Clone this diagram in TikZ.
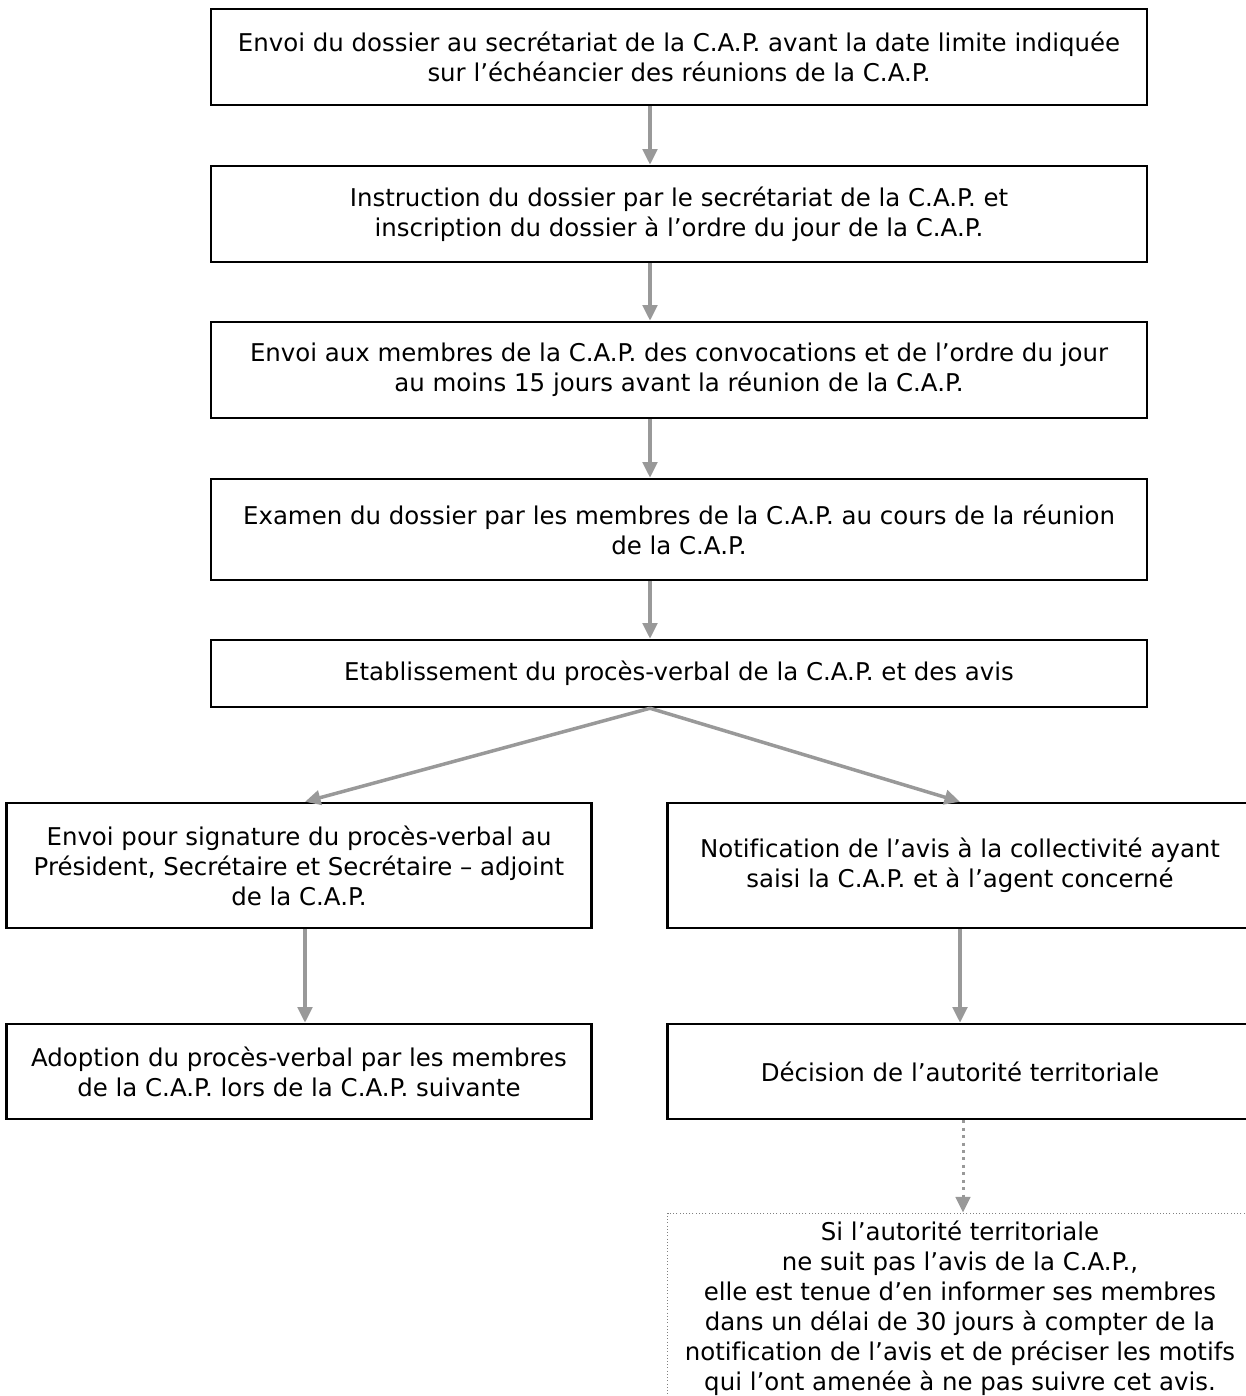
\documentclass[tikz,border=0pt]{standalone}
\usepackage{fontspec}
\setmainfont[Ligatures=NoCommon]{DejaVu Sans}
\usetikzlibrary{positioning,arrows.meta}

\newcommand{\pxl}{0.45pt}
\definecolor{grisfl}{HTML}{999999}

\begin{document}
\begin{tikzpicture}[
  x=\pxl, y=-\pxl,
  every node/.style={font=\fontsize{11.0}{13.5}\selectfont, align=center, inner sep=0pt},
  etape/.style={draw, rectangle, line width=2.5*\pxl},
  large/.style={minimum width=936*\pxl},
  demi/.style={minimum width=585*\pxl},
  fleche/.style={draw=grisfl, line width=3.5*\pxl, -{Triangle[width=6.5pt, length=7pt]}},
  pointille/.style={draw=grisfl, line width=3*\pxl, dotted, -{Triangle[width=6.5pt, length=7pt]}},
]

\useasboundingbox (0,0) rectangle (1246,1396);
\clip (0,0) rectangle (1246,1396);

% colonne centrale
\node (e1) [etape, large, minimum height=96*\pxl] at (679,57)
  {Envoi du dossier au secrétariat de la C.A.P. avant la date limite indiquée\\
   sur l’échéancier des réunions de la C.A.P.};
\node (e2) [etape, large, minimum height=96*\pxl] at (679,214)
  {Instruction du dossier par le secrétariat de la C.A.P. et\\
   inscription du dossier à l’ordre du jour de la C.A.P.};
\node (e3) [etape, large, minimum height=96*\pxl] at (679,370)
  {Envoi aux membres de la C.A.P. des convocations et de l’ordre du jour\\
   au moins 15 jours avant la réunion de la C.A.P.};
\node (e4) [etape, large, minimum height=101*\pxl] at (679,529.5)
  {Examen du dossier par les membres de la C.A.P. au cours de la réunion\\
   de la C.A.P.};
\node (e5) [etape, large, minimum height=67*\pxl] at (679,673.5)
  {Etablissement du procès-verbal de la C.A.P. et des avis};

% branche gauche
\node (g1) [etape, demi, minimum height=125*\pxl] at (299,865.5)
  {Envoi pour signature du procès-verbal au\\
   Président, Secrétaire et Secrétaire – adjoint\\
   de la C.A.P.};
\node (g2) [etape, demi, minimum height=95*\pxl] at (299,1071.5)
  {Adoption du procès-verbal par les membres\\
   de la C.A.P. lors de la C.A.P. suivante};

% branche droite
\node (d1) [etape, demi, minimum height=125*\pxl] at (960,865.5)
  {Notification de l’avis à la collectivité ayant\\
   saisi la C.A.P. et à l’agent concerné};
\node (d2) [etape, demi, minimum height=95*\pxl] at (960,1071.5)
  {Décision de l’autorité territoriale};
\node (d3) [draw=gray, densely dotted, line width=1*\pxl, demi, minimum height=190*\pxl] at (960,1308)
  {Si l’autorité territoriale\\
   ne suit pas l’avis de la C.A.P.,\\
   elle est tenue d’en informer ses membres\\
   dans un délai de 30 jours à compter de la\\
   notification de l’avis et de préciser les motifs\\
   qui l’ont amenée à ne pas suivre cet avis.};

\coordinate (axe) at (650,0);

\draw[fleche] (e1.south -| axe) -- (e2.north -| axe);
\draw[fleche] (e2.south -| axe) -- (e3.north -| axe);
\draw[fleche] (e3.south -| axe) -- (e4.north -| axe);
\draw[fleche] (e4.south -| axe) -- (e5.north -| axe);
\draw[fleche] (e5.south -| axe) -- ([xshift=6*\pxl]g1.north);
\draw[fleche] (e5.south -| axe) -- (d1.north);
\draw[fleche] ([xshift=6*\pxl]g1.south) -- ([xshift=6*\pxl]g2.north);
\draw[fleche] (d1.south) -- (d2.north);
\draw[pointille] ([xshift=3*\pxl]d2.south) -- ([xshift=3*\pxl]d3.north);

\end{tikzpicture}
\end{document}
